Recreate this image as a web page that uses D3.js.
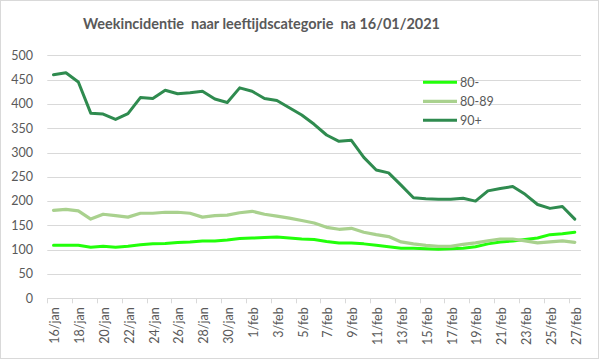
<!DOCTYPE html>
<html><head><meta charset="utf-8">
<script src="https://cdn.jsdelivr.net/npm/d3@7"></script>
<style>body{margin:0;background:#fff}svg{display:block}</style>
</head><body>
<script>
const categories = ["16/jan","17/jan","18/jan","19/jan","20/jan","21/jan","22/jan","23/jan","24/jan","25/jan","26/jan","27/jan","28/jan","29/jan","30/jan","31/jan","1/feb","2/feb","3/feb","4/feb","5/feb","6/feb","7/feb","8/feb","9/feb","10/feb","11/feb","12/feb","13/feb","14/feb","15/feb","16/feb","17/feb","18/feb","19/feb","20/feb","21/feb","22/feb","23/feb","24/feb","25/feb","26/feb","27/feb"];
const s80min = [109,109,109,105,107,105,107,110,112,113,115,116,118,118,120,123,124,125,126,124,122,121,117,114,114,112,109,106,103,103,102,101,102,103,106,112,116,118,121,124,131,133,136];
const s8089 = [181,183,180,163,173,170,167,175,175,177,177,175,167,170,171,176,179,173,169,165,160,155,146,142,144,136,131,127,116,112,109,107,107,111,114,118,122,122,118,114,116,118,115];
const s90plus = [460,464,445,381,379,368,380,413,411,428,421,423,426,410,403,433,426,411,407,392,377,358,336,323,325,290,264,258,233,207,205,204,204,206,200,221,226,230,214,193,185,189,163];
const seriesNames = ["80-","80-89","90+"];
const seriesColors = ["#22ff0a","#a9d18e","#2f8b4f"];
const yTicks = [0,50,100,150,200,250,300,350,400,450,500];
const title = "Weekincidentie  naar leeftijdscategorie  na 16/01/2021";

const W=599,H=359;
const font = "Lato, 'Open Sans', sans-serif";
const svg = d3.select("body").append("svg").attr("width",W).attr("height",H);
svg.append("rect").attr("x",0.5).attr("y",0.5).attr("width",W-1).attr("height",H-1)
  .attr("fill","#fff").attr("stroke","#d9d9d9");

const x = d3.scaleBand().domain(categories).range([47.3,581]).padding(0);
const y = d3.scaleLinear().domain([0,500]).range([298.3,55.3]);
const cx = c => x(c)+x.bandwidth()/2;

// gridlines
svg.append("g").selectAll("line").data(yTicks).join("line")
  .attr("x1",47.3).attr("x2",581).attr("y1",d=>Math.round(y(d))+0.5).attr("y2",d=>Math.round(y(d))+0.5)
  .attr("stroke","#d9d9d9").attr("stroke-width",1);

// y labels
svg.append("g").selectAll("text").data(yTicks).join("text")
  .attr("x",33).attr("y",d=>y(d)).attr("dy","0.35em").attr("text-anchor","end")
  .attr("font-family",font).attr("font-size",12.5).attr("fill","#595959").text(d=>d);

// x ticks (between categories, every 2)
const tickCats = categories.filter((d,i)=>i%2===0);
svg.append("g").selectAll("line").data(tickCats).join("line")
  .attr("x1",d=>Math.round(x(d))+0.5).attr("x2",d=>Math.round(x(d))+0.5)
  .attr("y1",y(0)).attr("y2",y(0)+5).attr("stroke","#d9d9d9");

// x labels
svg.append("g").selectAll("text").data(tickCats).join("text")
  .attr("transform",d=>`translate(${cx(d)+1.5},${y(0)+9}) rotate(-90)`)
  .attr("text-anchor","end").attr("dy","0.35em")
  .attr("font-family",font).attr("font-size",12.5).attr("fill","#595959").text(d=>d);

// lines
const line = d3.line().x((d,i)=>cx(categories[i])).y(d=>y(d)).curve(d3.curveLinear);
const allSeries = [s80min,s8089,s90plus];
const widths = [3,3.2,3];
allSeries.forEach((s,k)=>{
  svg.append("path").datum(s).attr("d",line).attr("fill","none")
    .attr("stroke",seriesColors[k]).attr("stroke-width",widths[k])
    .attr("stroke-linejoin","round").attr("stroke-linecap","round");
});

// legend
const legY = [82.3,101.3,120.3];
seriesNames.forEach((n,k)=>{
  svg.append("line").attr("x1",423).attr("x2",457).attr("y1",legY[k]).attr("y2",legY[k])
    .attr("stroke",seriesColors[k]).attr("stroke-width",widths[k]);
  svg.append("text").attr("x",460).attr("y",legY[k]).attr("dy","0.35em")
    .attr("font-family",font).attr("font-size",12.5).attr("fill","#595959").text(n);
});

// title
svg.append("text").attr("x",83).attr("y",23.5).attr("dy","0.35em")
  .attr("font-family",font).attr("font-weight","bold").attr("font-size",14.5)
  .attr("fill","#595959").attr("textLength",357).attr("lengthAdjust","spacingAndGlyphs")
  .attr("xml:space","preserve").style("white-space","pre").text(title);
</script>
</body></html>
